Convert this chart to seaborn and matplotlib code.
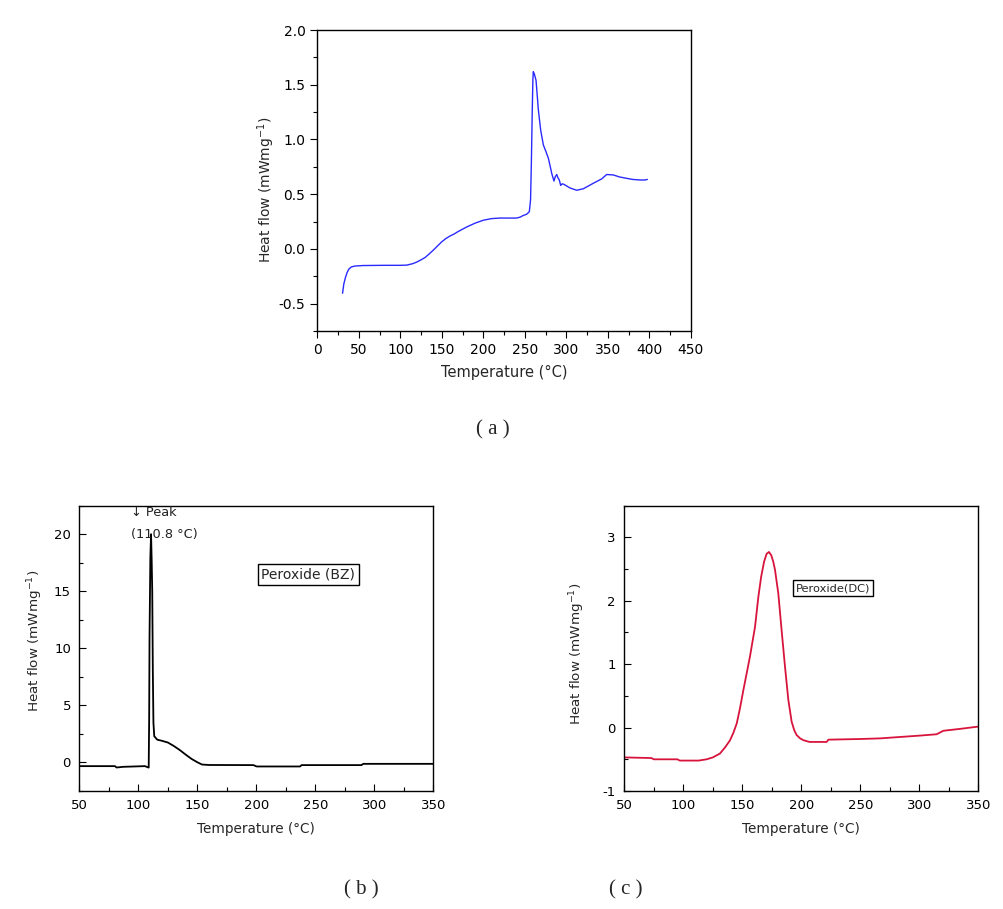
import numpy as np
import pandas as pd
import matplotlib
matplotlib.use("Agg")
import matplotlib.pyplot as plt
import seaborn as sns
from matplotlib.ticker import MultipleLocator

sns.set_theme(style="white")
plt.rcParams['font.family'] = ['DejaVu Sans']
plt.rcParams['axes.unicode_minus'] = False

# ---- Data: panel (a) ----
a_temp = [30.5, 32, 34, 36, 38, 41, 45, 55, 80, 100, 108, 115, 120, 125, 130, 135, 140, 145, 150,
          155, 160, 165, 170, 180, 190, 200, 210, 220, 240, 244.3, 248, 252.3, 255.5, 257, 258, 259,
          259.8, 260.3, 261.5, 263.6, 266.4, 269.2, 272.4, 275.5, 278.4, 280.5, 282.5, 285.2, 286.8,
          288.5, 290, 291.6, 293.3, 295, 297.3, 304.5, 312.6, 320.6, 332.6, 342.7, 348.7, 356.7,
          364, 372.8, 380, 388.9, 395, 397.7]
a_heat = [-0.405, -0.32, -0.26, -0.215, -0.185, -0.165, -0.157, -0.152, -0.15, -0.15, -0.148, -0.135,
          -0.12, -0.1, -0.078, -0.045, -0.01, 0.028, 0.065, 0.095, 0.118, 0.137, 0.16, 0.2, 0.235,
          0.262, 0.277, 0.282, 0.282, 0.29, 0.305, 0.317, 0.34, 0.45, 0.8, 1.25, 1.55, 1.62, 1.6,
          1.54, 1.27, 1.085, 0.95, 0.89, 0.83, 0.76, 0.69, 0.62, 0.66, 0.68, 0.65, 0.63, 0.58, 0.595,
          0.59, 0.557, 0.536, 0.55, 0.6, 0.64, 0.68, 0.676, 0.658, 0.645, 0.635, 0.63, 0.63, 0.635]

# ---- Data: panel (b) ----
b_temp = [50, 80.2, 81.6, 87.3, 105.6, 108.8, 109.2, 109.5, 110.2, 110.8, 111.3, 111.8, 112.3, 112.8,
          113.5, 116, 120, 125, 130, 135, 140, 145, 150, 154, 160, 197.5, 200.3, 237, 238.4, 289,
          290.7, 350]
b_heat = [-0.32, -0.32, -0.44, -0.38, -0.32, -0.45, 4.0, 11, 18, 20, 17.8, 15, 8, 3.5,
          2.3, 2.0, 1.9, 1.75, 1.45, 1.1, 0.7, 0.32, 0.02, -0.18, -0.22, -0.23, -0.35, -0.35, -0.23,
          -0.23, -0.12, -0.12]

# ---- Data: panel (c) ----
c_temp = [50, 73, 75, 95, 97, 113, 119.8, 125, 131, 135.5, 139.6, 142.5, 145.3, 148, 150.9, 156.5,
          160.8, 163.6, 166, 168.5, 170.6, 172.6, 174.5, 176.2, 177.7, 180.5, 183.3, 186.2, 189,
          191.8, 194, 196, 199, 202, 207, 221.5, 223, 249.7, 266.7, 300.6, 314.7, 320.4, 334.5, 350]
c_heat = [-0.47, -0.48, -0.5, -0.5, -0.52, -0.52, -0.5, -0.47, -0.41, -0.31, -0.2, -0.08, 0.066, 0.3,
          0.59, 1.12, 1.59, 2.06, 2.38, 2.62, 2.74, 2.77, 2.72, 2.62, 2.49, 2.12, 1.54, 0.96, 0.44,
          0.095, -0.04, -0.116, -0.17, -0.2, -0.226, -0.226, -0.19, -0.18, -0.17, -0.126, -0.105,
          -0.05, -0.02, 0.016]

xlabel = "Temperature (\u00b0C)"
ylabel = "Heat flow (mWmg$^{-1}$)"

fig = plt.figure(figsize=(10.04, 9.09), dpi=100)
fig.patch.set_facecolor("white")

ax_a = fig.add_axes([0.316, 0.6359, 0.372, 0.331])
ax_b = fig.add_axes([0.079, 0.1298, 0.3526, 0.3139])
ax_c = fig.add_axes([0.6218, 0.1298, 0.3526, 0.3139])

dfa = pd.DataFrame({"T": a_temp, "H": a_heat})
dfb = pd.DataFrame({"T": b_temp, "H": b_heat})
dfc = pd.DataFrame({"T": c_temp, "H": c_heat})

sns.lineplot(data=dfa, x="T", y="H", ax=ax_a, color="#2a2aff", linewidth=1.0, sort=False, estimator=None)
sns.lineplot(data=dfb, x="T", y="H", ax=ax_b, color="black", linewidth=1.3, sort=False, estimator=None)
sns.lineplot(data=dfc, x="T", y="H", ax=ax_c, color="#d8143c", linewidth=1.3, sort=False, estimator=None)

# Panel (a) styling
ax_a.set_xlim(0, 450)
ax_a.set_ylim(-0.75, 2.0)
ax_a.xaxis.set_major_locator(MultipleLocator(50))
ax_a.xaxis.set_minor_locator(MultipleLocator(25))
ax_a.yaxis.set_major_locator(MultipleLocator(0.5))
ax_a.yaxis.set_minor_locator(MultipleLocator(0.25))
ax_a.tick_params(which="both", direction="out", top=False, right=False, bottom=True, left=True,
                 labelsize=10, colors="black")
ax_a.tick_params(which="major", length=5, width=0.8)
ax_a.tick_params(which="minor", length=3, width=0.8)
ax_a.set_yticks([-0.5, 0.0, 0.5, 1.0, 1.5, 2.0])
ax_a.set_yticklabels(["-0.5", "0.0", "0.5", "1.0", "1.5", "2.0"])
ax_a.set_xlabel(xlabel, fontsize=10.5, labelpad=6)
ax_a.set_ylabel(ylabel, fontsize=10)
ax_a.yaxis.set_label_coords(-0.109, 0.47)

# Panel (b) styling
ax_b.set_xlim(50, 350)
ax_b.set_ylim(-2.5, 22.5)
ax_b.xaxis.set_major_locator(MultipleLocator(50))
ax_b.xaxis.set_minor_locator(MultipleLocator(25))
ax_b.set_yticks([0, 5, 10, 15, 20])
ax_b.yaxis.set_minor_locator(MultipleLocator(2.5))
ax_b.set_xlabel(xlabel, fontsize=9.8)
ax_b.set_ylabel(ylabel, fontsize=9.7)
ax_b.xaxis.set_label_coords(0.5, -0.108)
ax_b.yaxis.set_label_coords(-0.097, 0.526)
ax_b.text(94, 21.9, "\u2193 Peak", fontsize=9.3, ha="left", va="center", color="#222222")
ax_b.text(93.5, 20.0, "(110.8 \u00b0C)", fontsize=9.3, ha="left", va="center", color="#222222")
ax_b.text(244, 16.5, "Peroxide (BZ)", fontsize=10, ha="center", va="center",
          bbox=dict(boxstyle="square,pad=0.25", facecolor="white", edgecolor="black", linewidth=1))

# Panel (c) styling
ax_c.set_xlim(50, 350)
ax_c.set_ylim(-1, 3.5)
ax_c.xaxis.set_major_locator(MultipleLocator(50))
ax_c.xaxis.set_minor_locator(MultipleLocator(25))
ax_c.set_yticks([-1, 0, 1, 2, 3])
ax_c.yaxis.set_minor_locator(MultipleLocator(0.5))
ax_c.set_xlabel(xlabel, fontsize=9.8)
ax_c.set_ylabel(ylabel, fontsize=9.7)
ax_c.xaxis.set_label_coords(0.5, -0.108)
ax_c.yaxis.set_label_coords(-0.106, 0.482)
ax_c.text(227, 2.2, "Peroxide(DC)", fontsize=8.2, ha="center", va="center",
          bbox=dict(boxstyle="square,pad=0.25", facecolor="white", edgecolor="black", linewidth=1))

for ax in (ax_b, ax_c):
    ax.tick_params(which="both", direction="in", top=False, right=False, bottom=True, left=True,
                   labelsize=9.5, colors="black")
    ax.tick_params(which="major", length=5, width=0.8, pad=6)
    ax.tick_params(which="minor", length=3, width=0.8)

for ax in (ax_a, ax_b, ax_c):
    for s in ax.spines.values():
        s.set_visible(True)
        s.set_color("black")
        s.set_linewidth(1.0)
    ax.set_facecolor("white")
    ax.grid(False)

fig.text(0.491, 0.527, "( a )", fontsize=15, family="Liberation Serif", ha="center", va="center")
fig.text(0.3603, 0.0209, "( b )", fontsize=15, family="Liberation Serif", ha="center", va="center")
fig.text(0.6235, 0.0209, "( c )", fontsize=15, family="Liberation Serif", ha="center", va="center")

fig.savefig("out.png", dpi=100, facecolor="white")
